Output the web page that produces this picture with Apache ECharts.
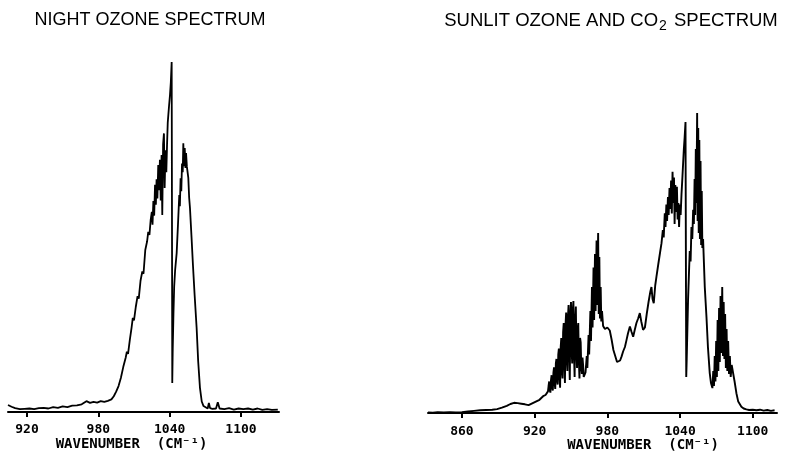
<!DOCTYPE html>
<html>
<head>
<meta charset="utf-8">
<script src="https://cdn.jsdelivr.net/npm/echarts@6/dist/echarts.min.js"></script>
<style>
  html, body { margin: 0; padding: 0; background: #fff; }
  #main { width: 787px; height: 452px; }
</style>
</head>
<body>
<div id="main"></div>
<script>
// tick labels
var nightTicks = [920, 980, 1040, 1100];
var sunTicks = [860, 920, 980, 1040, 1100];

// night ozone spectrum (wavenumber, relative radiance)
var nightWn = [904, 907, 910, 914, 918, 922, 926, 930, 934, 938, 942, 946, 950, 954, 958, 962, 966, 970, 973, 976,
  979, 982, 985, 988, 991, 993, 995, 997, 999, 1001, 1003, 1004, 1005, 1006.5, 1008, 1009, 1010, 1011.5, 1013, 1014,
  1015.5, 1017, 1018, 1019.5, 1021, 1022, 1023, 1024, 1025, 1025.6, 1026.3, 1027, 1027.7, 1028.4, 1029, 1029.7,
  1030.4, 1031.1, 1031.8, 1032.5, 1033.2, 1033.8, 1034.5, 1035.2, 1035.8, 1036.5, 1037.2, 1037.8, 1038.4, 1038.9,
  1039.5, 1040.3, 1041, 1041.7, 1041.95, 1042.2, 1042.6, 1043.2, 1043.8, 1044.6, 1045.9, 1047, 1048.1, 1048.6,
  1049.2, 1049.8, 1050.4, 1051, 1051.5, 1052.1, 1052.7, 1053.3, 1053.8, 1054.5, 1055.7, 1056.4, 1057.1, 1058.4,
  1059.6, 1061, 1062.7, 1064, 1065.5, 1067, 1068.5, 1070, 1072, 1073, 1074, 1076, 1079, 1080.5, 1082, 1086, 1090,
  1094, 1098, 1102, 1106, 1110, 1114, 1118, 1122, 1126, 1131];
var nightVal = [2.0, 1.5, 1.1, 0.8, 0.9, 1.0, 0.8, 1.1, 1.2, 1.0, 1.4, 1.2, 1.6, 1.4, 1.8, 1.9, 2.2, 3.1, 2.6, 2.9,
  2.7, 3.1, 2.9, 3.2, 3.6, 4.5, 5.8, 7.4, 9.8, 12.9, 15.5, 17.2, 16.6, 20.6, 24.2, 26.9, 26.2, 30.0, 33.1, 32.4,
  37.5, 40.2, 39.5, 46.3, 48.7, 51.5, 50.6, 54.8, 57.2, 53.5, 60.3, 56.1, 64.9, 59.2, 66.5, 61.0,
  70.6, 63.4, 72.1, 60.4, 73.4, 56.3, 76.5, 79.6, 64.0, 74.8, 68.5, 76.3, 82.7, 84.9,
  87.5, 90.6, 94.3, 100, 58, 8.3, 18, 28, 35.8, 40.5, 45.4, 53.5, 62, 58.8,
  66.8, 63.1, 71.0, 68.5, 76.8, 70.2, 75.4, 69.7, 74.0, 70.1, 66.9, 61.3, 58.3, 50.0,
  42, 33.5, 24, 14.5, 6.9, 3.0, 1.7, 1.2, 1.0, 2.6, 1.1, 0.9, 1.0, 2.8, 1.0, 0.8, 1.1,
  0.7, 1.0, 0.8, 1.0, 0.7, 1.0, 0.6, 0.8, 0.6, 0.7];

// sunlit ozone and CO2 spectrum
var sunWn = [832, 836, 840, 845, 850, 855, 860, 865, 870, 875, 880, 885, 889, 893, 897, 900, 903, 906, 909, 912,
  915, 918, 921, 924, 927, 929,
  931, 931.5, 932, 932.5, 933, 933.5, 934, 934.5, 935, 935.5, 936, 936.5, 937, 937.5, 938, 938.5, 939, 939.5,
  940, 940.5, 941, 941.5, 942, 942.5, 943, 943.5, 944, 944.5, 945, 945.5, 946, 946.5, 947, 947.5, 948, 948.5,
  949, 949.5, 950, 950.5, 951, 951.5, 952, 952.5, 953, 953.5, 954, 954.5, 955, 955.5, 956, 956.5, 957, 957.5,
  958, 958.5, 959, 959.5, 960, 960.5, 961,
  962, 963, 963.5, 964.5, 965, 966, 966.5, 967.3, 967.8, 968.6, 969.1, 969.8, 970.3, 971.1, 971.6, 972.4, 972.9,
  973.4, 973.9, 974.5, 975, 975.6, 976.5,
  978, 980, 982, 983.5, 985, 986.5, 988, 989, 990.5, 991.7, 993, 994.5, 995.8, 997, 998.6, 1000, 1001.3, 1002.5,
  1004, 1005.4, 1006.8, 1008, 1009.5, 1011, 1012.5, 1014, 1015.5, 1016.4, 1017.3, 1018.3, 1019.5, 1020.5, 1022,
  1023.5, 1024.7, 1025.8, 1026.5, 1027.4,
  1028, 1028.7, 1029.3, 1030, 1030.6, 1031.3, 1031.9, 1032.6, 1033.2, 1033.8, 1034.4, 1035, 1035.5, 1036.1,
  1036.8, 1037.4, 1038, 1038.6, 1039.2, 1039.8, 1040.5, 1041.2, 1042, 1043.1, 1043.8, 1044.5, 1044.8, 1045.1,
  1045.5, 1046.6, 1047.3, 1048, 1048.7, 1049.4, 1050.1, 1050.8, 1051.4, 1052.0, 1052.5, 1053.0, 1053.5, 1054.1,
  1054.5, 1055.0, 1055.4, 1055.9, 1056.4, 1056.9, 1057.4, 1057.9, 1058.4, 1059.0, 1059.7, 1060.4, 1061.1, 1061.8,
  1063, 1064.5, 1065.5, 1066.7,
  1067.4, 1068, 1068.6, 1069.2, 1069.8, 1070.4, 1071, 1071.6, 1072.2, 1072.8, 1073.4, 1074, 1074.8, 1075.4, 1076,
  1076.6, 1077.2, 1077.8, 1078.4, 1079, 1079.7, 1080.4, 1081.1, 1081.8, 1082.6, 1083.8, 1085, 1086.5, 1088,
  1090.6, 1092.5, 1094.7, 1097, 1100, 1103, 1106, 1109, 1112, 1115, 1118];
var sunVal = [0.2, 0.1, 0.3, 0.2, 0.3, 0.2, 0.3, 0.5, 0.7, 0.9, 1.0, 1.1, 1.3, 1.8, 2.4, 3.0, 3.4, 3.3, 3.1, 2.9,
  2.6, 3.2, 3.8, 4.4, 5.6, 6.0,
  7.2, 9.0, 10.5, 7.5, 6.8, 11.0, 12.6, 8.5, 7.5, 13.5, 15.2, 10.0, 8.0, 16.5, 18.0, 11.0, 9.5, 19.5,
  21.5, 12.5, 8.4, 22.0, 25.0, 14.0, 11.5, 27.0, 30.0, 16.5, 10.0, 29.5, 33.5, 18.0, 14.0, 32.0, 36.0, 20.0,
  11.0, 33.0, 37.0, 21.0, 16.5, 34.5, 37.3, 19.5, 12.0, 31.0, 35.5, 20.0, 15.0, 28.0, 30.0, 17.5, 11.5, 25.0,
  23.5, 15.0, 13.0, 18.5, 16.0, 12.0, 11.5,
  13.5, 19.0, 15.0, 26.0, 19.5, 34.0, 24.0, 42.0, 28.5, 48.5, 31.0, 53.0, 34.0, 57.5, 36.0, 60.0, 33.0,
  52.0, 31.5, 42.0, 30.5, 34.0, 29.0,
  28.0, 28.5, 27.5, 24.5, 21.0, 19.0, 17.0, 16.6, 17.5, 18.8, 20.5, 22.0, 24.3, 26.5, 28.8, 27.0, 25.4, 27.5,
  30.0, 31.5, 33.3, 30.5, 27.7, 28.5, 33.0, 37.0, 40.5, 42.0, 38.0, 36.6, 42.5, 45.4, 49.5,
  53.5, 56.6, 61.0, 58.5, 66.6,
  62.0, 69.5, 64.0, 72.0, 66.0, 75.0, 68.0, 77.5, 66.5, 80.4, 70.0, 78.5, 63.0, 76.0,
  67.0, 75.4, 64.5, 70.0, 62.0, 69.5, 66.0, 73.0, 79.0, 87.7, 92.0, 97.0, 55.0, 12.0,
  18.0, 37.7, 46.0, 54.0, 50.5, 62.0, 58.0, 67.7, 63.0, 78.0, 66.0, 88.0, 70.0, 100,
  64.0, 95.0, 60.0, 91.0, 58.0, 84.0, 56.0, 74.0, 55.0, 58.0, 50.0, 42.0, 37.0, 32.0,
  22.0, 13.3, 10.0, 8.3,
  14.0, 9.0, 19.0, 10.5, 24.0, 12.0, 31.0, 14.0, 35.0, 17.0, 39.0, 20.0, 42.0, 19.0, 37.0,
  18.0, 33.0, 15.0, 28.0, 14.0, 24.0, 13.0, 19.0, 12.0, 16.0, 15.4, 10.5, 6.6, 3.8,
  2.1, 1.5, 1.2, 1.0, 1.1, 0.9, 1.1, 0.8, 1.0, 0.7, 0.9];

function pairs(xs, ys) {
  var out = [];
  for (var i = 0; i < xs.length; i++) out.push([xs[i], ys[i]]);
  return out;
}

var tickFont = { color: '#000', fontFamily: 'DejaVu Sans Mono', fontWeight: 'bold', fontSize: 13 };
var nameFont = { color: '#000', fontFamily: 'DejaVu Sans Mono', fontWeight: 'bold', fontSize: 14 };

function xAxisFor(idx, min, max, ticks, margin, gap, namePad) {
  return {
    gridIndex: idx, type: 'value', min: min, max: max,
    name: 'WAVENUMBER  (CM\u207B\u00B9)', nameLocation: 'middle', nameGap: gap, nameMoveOverlap: false,
    nameTextStyle: Object.assign({ padding: namePad }, nameFont),
    axisLine: { lineStyle: { color: '#000', width: 2 } },
    axisTick: { customValues: ticks, length: 5, lineStyle: { color: '#000', width: 2 } },
    axisLabel: Object.assign({ customValues: ticks, margin: margin, formatter: function (v) { return String(v); } }, tickFont),
    splitLine: { show: false }
  };
}

var chart = echarts.init(document.getElementById('main'));
chart.setOption({
  animation: false,
  backgroundColor: '#fff',
  title: [
    {
      text: 'NIGHT OZONE SPECTRUM', left: 150, top: 10, padding: 0, textAlign: 'center',
      textStyle: { color: '#000', fontFamily: 'Liberation Sans', fontWeight: 'normal', fontSize: 18, lineHeight: 20 }
    },
    {
      text: 'SUNLIT OZONE AND CO{sub|2} SPECTRUM', left: 611, top: 8, padding: 0, textAlign: 'center',
      textStyle: {
        color: '#000', fontFamily: 'Liberation Sans', fontWeight: 'normal', fontSize: 18.5,
        rich: { sub: { fontFamily: 'Liberation Sans', fontSize: 14, color: '#000', padding: [11, 2, 0, 1] } }
      }
    }
  ],
  grid: [
    { left: 8, width: 271, top: 62, bottom: 40, outerBoundsMode: 'none', containLabel: false },
    { left: 428, width: 349, top: 113, bottom: 39, outerBoundsMode: 'none', containLabel: false }
  ],
  xAxis: [
    xAxisFor(0, 904, 1132, nightTicks, 11, 25, [0, 24, 0, 0]),
    xAxisFor(1, 832, 1120, sunTicks, 12, 25, [0, 0, 0, 81])
  ],
  yAxis: [
    { gridIndex: 0, type: 'value', min: 0, max: 100, show: false },
    { gridIndex: 1, type: 'value', min: 0, max: 100, show: false }
  ],
  series: [
    {
      type: 'line', xAxisIndex: 0, yAxisIndex: 0, showSymbol: false,
      lineStyle: { color: '#000', width: 1.8 }, data: pairs(nightWn, nightVal)
    },
    {
      type: 'line', xAxisIndex: 1, yAxisIndex: 1, showSymbol: false,
      lineStyle: { color: '#000', width: 1.9 }, data: pairs(sunWn, sunVal)
    }
  ]
});
</script>
</body>
</html>
